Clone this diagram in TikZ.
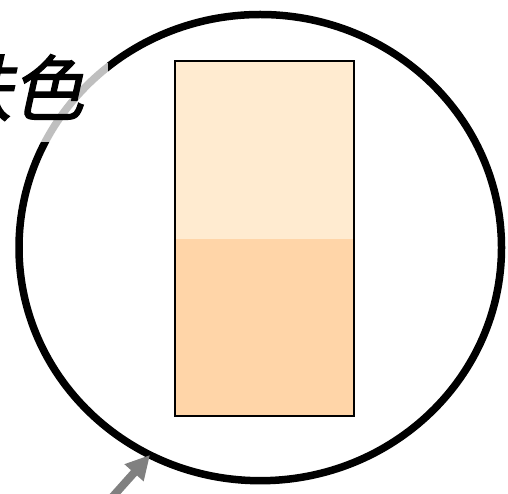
\documentclass[tikz,border=0pt]{standalone}
\usepackage{fontspec}
\newfontfamily\cjk[FakeSlant=0.22,FakeBold=1.6]{Noto Sans CJK SC}
\usetikzlibrary{shapes.geometric,arrows.meta}
\definecolor{peachlight}{HTML}{FFEBD0}
\definecolor{peachdark}{HTML}{FFD5A8}
\definecolor{arrowgray}{HTML}{808080}
\tikzset{
  halfbox/.style={inner sep=0pt, outer sep=0pt, minimum width=179pt, anchor=north west},
  ring/.style={ellipse, draw=black, line width=7.5pt, inner sep=0pt, outer sep=0pt, minimum width=482.5pt, minimum height=466.2pt},
  pointer/.style={draw=arrowgray, line width=8pt, -{Triangle[length=24pt,width=24pt]}},
  mask/.style={fill=white, fill opacity=0.75, inner sep=0pt, outer sep=0pt, anchor=north east, minimum width=140pt, minimum height=79pt},
}
\begin{document}
\begin{tikzpicture}[x=1pt,y=-1pt]
\useasboundingbox (0,0) rectangle (508,494);
% rectangle halves
\node (top) [halfbox, fill=peachlight, minimum height=177.7pt] at (175.3,61.3) {};
\node (bot) [halfbox, fill=peachdark, minimum height=177pt] at (175.3,239) {};
\draw[line width=2pt] (top.north west) rectangle (bot.south east);
% circle
\node (c) [ring] at (260.25,247.6) {};
% label with translucent backing
\node (m) [mask] at (108,63) {};
\node (lbl) [anchor=base east, inner sep=0pt, font=\fontsize{72}{72}\selectfont] at (84,115) {\cjk 肤色};
% arrow
\coordinate (s) at (90,522);
\draw[pointer] (s) -- (c.242);
\end{tikzpicture}
\end{document}
